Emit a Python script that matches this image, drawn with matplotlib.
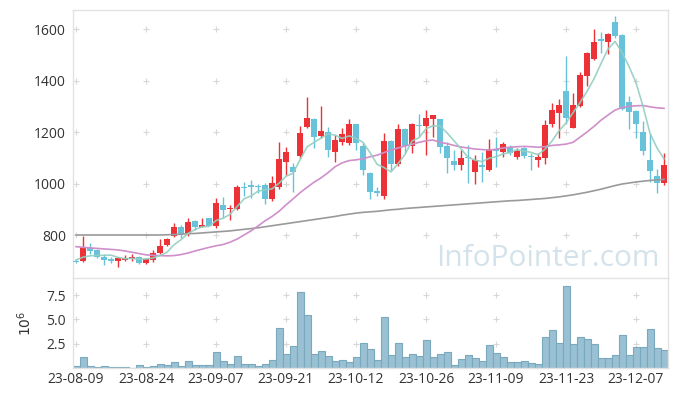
import numpy as np
import pandas as pd
import matplotlib
matplotlib.use('Agg')
import matplotlib.pyplot as plt

plt.rcParams['font.family'] = ['Open Sans', 'DejaVu Sans']

# trading days (KRX holidays removed)
holidays = ['2023-08-15', '2023-09-28', '2023-09-29', '2023-10-02', '2023-10-03', '2023-10-09']
dates = pd.bdate_range('2023-08-09', '2023-12-13', freq='C', holidays=holidays)

opens = [700, 700, 750, 740, 716, 706, 700, 704, 707, 715,
         690, 701, 731, 760, 798, 832, 808, 855, 832, 865,
         836, 917, 900, 901, 988, 994, 990, 994, 939, 988,
         1082, 1063, 1108, 1218, 1250, 1186, 1199, 1121, 1160, 1156,
         1231, 1146, 1040, 970, 952, 1165, 1076, 1210, 1145, 1229,
         1225, 1249, 1249, 1147, 1087, 1070, 1103, 1046, 1071, 1052,
         1133, 1124, 1141, 1104, 1137, 1108, 1091, 1098, 1230, 1273,
         1359, 1217, 1302, 1419, 1482, 1560, 1551, 1626, 1577, 1315,
         1282, 1199, 1091, 1029, 1003]
highs = [708, 797, 768, 745, 726, 716, 714, 722, 727, 720,
         712, 742, 783, 790, 845, 840, 865, 860, 865, 868,
         942, 946, 917, 994, 1004, 1014, 1000, 1001, 1030, 1162,
         1143, 1079, 1225, 1337, 1253, 1302, 1221, 1188, 1214, 1249,
         1233, 1156, 1045, 985, 1197, 1170, 1230, 1217, 1234, 1270,
         1285, 1266, 1252, 1162, 1130, 1130, 1150, 1111, 1124, 1173,
         1182, 1162, 1150, 1137, 1140, 1117, 1117, 1247, 1311, 1327,
         1495, 1353, 1434, 1512, 1599, 1590, 1583, 1650, 1582, 1340,
         1285, 1243, 1195, 1055, 1120]
lows = [690, 697, 728, 710, 684, 690, 677, 700, 700, 687,
        687, 697, 728, 758, 793, 788, 795, 818, 830, 834,
        826, 865, 858, 897, 950, 942, 965, 919, 932, 978,
        1033, 968, 1098, 1214, 1137, 1176, 1104, 1082, 1150, 1150,
        1130, 1033, 939, 950, 939, 1047, 1069, 1117, 1117, 1181,
        1111, 1182, 1120, 1042, 1052, 1052, 1001, 997, 1007, 1049,
        1065, 1104, 1112, 1095, 1100, 1052, 1065, 1075, 1221, 1176,
        1231, 1214, 1298, 1379, 1480, 1508, 1502, 1565, 1285, 1210,
        1176, 1111, 1007, 964, 994]
closes = [695, 755, 737, 713, 704, 703, 710, 712, 715, 690,
          706, 731, 757, 783, 832, 805, 852, 832, 839, 836,
          923, 896, 906, 988, 985, 985, 985, 939, 1001, 1095,
          1121, 1044, 1198, 1253, 1182, 1204, 1130, 1169, 1192, 1231,
          1157, 1053, 966, 967, 1165, 1076, 1210, 1146, 1230, 1226,
          1253, 1266, 1143, 1098, 1070, 1098, 1100, 1091, 1068, 1133,
          1130, 1152, 1118, 1126, 1105, 1105, 1104, 1227, 1285, 1305,
          1253, 1305, 1421, 1506, 1548, 1552, 1581, 1573, 1290, 1279,
          1230, 1128, 1050, 1001, 1072]

ma5 = [703, 714, 719, 721, 721, 722, 713, 708, 709, 706,
       707, 711, 720, 733, 762, 782, 806, 821, 832, 833,
       856, 865, 880, 910, 940, 952, 970, 976, 979, 1001,
       1028, 1040, 1092, 1142, 1160, 1176, 1193, 1188, 1175, 1185,
       1176, 1160, 1120, 1075, 1062, 1045, 1077, 1113, 1165, 1178,
       1213, 1224, 1224, 1197, 1166, 1135, 1102, 1091, 1085, 1098,
       1104, 1115, 1120, 1132, 1126, 1121, 1112, 1133, 1165, 1205,
       1235, 1275, 1314, 1358, 1407, 1466, 1522, 1552, 1509, 1455,
       1391, 1300, 1195, 1138, 1096]
ma20 = [755, 752, 750, 748, 746, 744, 742, 738, 733, 728,
        723, 721, 720, 719, 720, 724, 730, 738, 745, 752,
        758, 763, 772, 784, 800, 816, 835, 855, 872, 892,
        917, 940, 964, 985, 1005, 1022, 1042, 1065, 1080, 1089,
        1092, 1096, 1104, 1110, 1120, 1130, 1138, 1146, 1152, 1160,
        1166, 1169, 1160, 1155, 1148, 1142, 1138, 1134, 1132, 1130,
        1133, 1138, 1141, 1143, 1144, 1143, 1141, 1143, 1148, 1150,
        1153, 1160, 1180, 1200, 1222, 1246, 1266, 1285, 1295, 1300,
        1302, 1303, 1298, 1294, 1292]
ma60 = [800, 800, 800, 800, 800, 800, 800, 800, 800, 800,
        800, 800, 800, 801, 802, 803, 805, 806, 808, 810,
        812, 814, 816, 819, 822, 825, 828, 832, 836, 840,
        844, 848, 852, 856, 860, 864, 868, 872, 877, 881,
        885, 888, 890, 892, 895, 898, 900, 903, 905, 907,
        909, 911, 913, 915, 917, 919, 921, 923, 925, 927,
        929, 931, 933, 934, 936, 938, 940, 942, 945, 948,
        952, 956, 961, 966, 972, 978, 985, 992, 998, 1002,
        1006, 1009, 1012, 1014, 1016]

volume = [0.17, 1.11, 0.17, 0.07, 0.17, 0.07, 0.07, 0.07, 0.03, 0.28,
          0.07, 0.17, 0.38, 0.28, 0.59, 0.17, 0.70, 0.28, 0.28, 0.28,
          1.63, 0.70, 0.38, 1.22, 0.38, 0.38, 0.17, 0.38, 0.80, 4.13,
          1.42, 2.26, 7.78, 5.49, 1.42, 1.74, 1.22, 0.70, 0.80, 0.59,
          1.11, 2.57, 1.95, 0.80, 5.28, 1.32, 2.57, 1.11, 1.42, 1.22,
          2.89, 1.11, 1.42, 1.63, 0.28, 0.90, 1.32, 1.01, 0.70, 2.36,
          1.53, 1.11, 0.59, 0.59, 0.70, 0.49, 0.38, 3.20, 3.93, 2.57,
          8.40, 2.47, 3.20, 2.99, 2.47, 1.01, 1.01, 1.32, 3.41, 1.32,
          2.16, 2.16, 4.03, 2.05, 1.84]

price_ticks = [800, 1000, 1200, 1400, 1600]
vol_ticks = [2.5, 5.0, 7.5]
date_tick_idx = list(range(0, 85, 10))

up_color = '#ec3237'
down_color = '#67c2da'
grid_color = '#d8d8d8'
spine_color = '#e2e2e2'
text_color = '#333333'

fig = plt.figure(figsize=(6.77, 3.96), dpi=100)
ax = fig.add_axes([73/677, 1-278/396, 595/677, 268/396])
axv = fig.add_axes([73/677, 1-368/396, 595/677, 90/396], sharex=ax)

x = np.arange(len(closes))
o = np.array(opens, float)
c = np.array(closes, float)
h = np.array(highs, float)
l = np.array(lows, float)
colors = np.where(c >= o, up_color, down_color)

ax.vlines(x, l, h, colors=colors, lw=1.0, zorder=2)
body = np.maximum(np.abs(c - o), 5)
ax.bar(x, body, bottom=np.minimum(o, c) - np.where(np.abs(c - o) < 5, 2.5, 0),
       width=0.72, color=colors, zorder=3, linewidth=0)

ax.plot(x, ma60, color='#9a9a9a', lw=1.2, zorder=4)
ax.plot(x, ma20, color='#cf8fca', lw=1.2, zorder=4)
ax.plot(x, ma5, color='#94cfc2', lw=1.2, zorder=5, alpha=0.9)

ax.text(0.985, 0.045, 'InfoPointer.com', transform=ax.transAxes, ha='right', va='baseline',
        fontsize=21.5, color='#d3e2eb', zorder=1)

axv.bar(x, volume, width=1.0, color='#9ac1d3', edgecolor='#7aa8bd', linewidth=0.8, zorder=2)

# grid drawn as small crosses at tick intersections
gx, gy = np.meshgrid(date_tick_idx, price_ticks)
ax.scatter(gx.ravel(), gy.ravel(), marker='+', s=18, color=grid_color, lw=0.8, zorder=0)
gx, gy = np.meshgrid(date_tick_idx, vol_ticks)
axv.scatter(gx.ravel(), gy.ravel(), marker='+', s=18, color=grid_color, lw=0.8, zorder=0)

ax.set_xlim(-0.43, 84.57)
ax.set_ylim(633, 1674)
axv.set_ylim(0, 9.27)

ax.set_yticks(price_ticks)
axv.set_yticks(vol_ticks)
axv.set_yticklabels(['2.5', '5.0', '7.5'])
axv.set_xticks(date_tick_idx)
axv.set_xticklabels([dates[i].strftime('%y-%m-%d') for i in date_tick_idx])
ax.tick_params(axis='x', labelbottom=False, length=0)
ax.tick_params(axis='y', length=0, labelsize=10, colors=text_color, pad=5)
axv.tick_params(axis='both', length=0, labelsize=10, colors=text_color)
axv.tick_params(axis='y', pad=5)
axv.tick_params(axis='x', pad=3)
axv.set_ylabel(r'$10^6$', fontsize=10, color=text_color, labelpad=8)

for a in (ax, axv):
    for s in a.spines.values():
        s.set_color(spine_color)
        s.set_linewidth(1.0)
ax.spines['bottom'].set_visible(False)

fig.savefig('out.png', dpi=100)
